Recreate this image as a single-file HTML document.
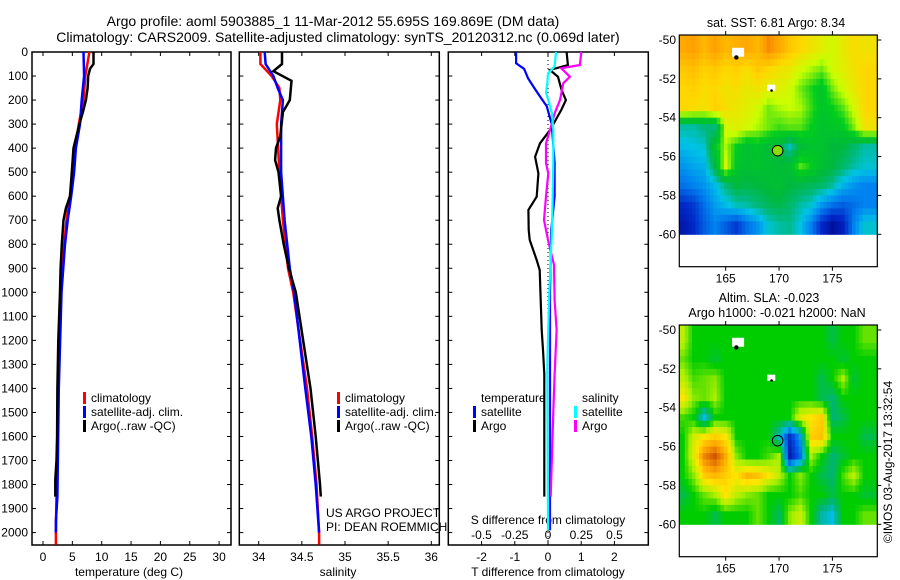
<!DOCTYPE html>
<html><head><meta charset="utf-8"><style>
html,body{margin:0;padding:0;background:#fff;}
svg{display:block;font-family:"Liberation Sans",sans-serif;}
text{font-size:12px;fill:#000;}
</style></head><body>
<svg id="fig" width="900" height="580" viewBox="0 0 900 580" xmlns="http://www.w3.org/2000/svg">
<text x="333" y="26" text-anchor="middle" style="font-size:14px">Argo profile: aoml 5903885_1 11-Mar-2012 55.695S 169.869E (DM data)</text>
<text x="338" y="42" text-anchor="middle" style="font-size:14px">Climatology: CARS2009. Satellite-adjusted climatology: synTS_20120312.nc (0.069d later)</text>
<g id="g1"></g>
<g id="g2"></g>
<g id="g3"></g>
<g id="m1"></g>
<g id="m2"></g>
<text transform="translate(892,462) rotate(-90)" text-anchor="middle">©IMOS 03-Aug-2017 13:32:54</text>
</svg>
<script>
// ---------- data ----------
const depthTicks=[0,100,200,300,400,500,600,700,800,900,1000,1100,1200,1300,1400,1500,1600,1700,1800,1900,2000];
const tTicks=[0,5,10,15,20,25,30];
const sTicks=[34,34.5,35,35.5,36];
const dTTicks=[-2,-1,0,1,2];
const dSTicks=[-0.5,-0.25,0,0.25,0.5];
const dSTickLabels=["-0.5","-0.25","0","0.25","0.5"];

const argoTDepth=[0,50,70,100,150,200,250,300,400,500,600,650,700,800,900,1000,1200,1400,1600,1700,1780,1850];
const argoT=[8.6,8.6,8.0,7.7,7.6,7.3,6.8,6.2,5.2,4.9,4.6,3.9,3.5,3.2,3.0,2.9,2.6,2.45,2.4,2.3,2.1,2.1];
const climTDepth=[0,100,200,300,400,500,600,700,800,1000,1400,2000,2050];
const climT=[7.9,7.2,6.9,6.1,5.5,5.1,4.6,4.0,3.6,3.1,2.55,2.2,2.2];
const satTDepth=[0,100,200,300,400,500,600,700,800,1000,1400,1850,1950,2000];
const satT=[6.9,7.0,6.6,6.3,5.6,5.3,4.8,4.2,3.75,3.15,2.7,2.45,2.2,2.2];

const argoSDepth=[0,50,80,120,200,250,350,400,450,500,600,650,700,800,900,1000,1400,1600,1800,1850];
const argoS=[34.27,34.27,34.17,34.38,34.36,34.28,34.25,34.20,34.19,34.23,34.26,34.22,34.24,34.29,34.35,34.43,34.60,34.66,34.71,34.72];
const climSDepth=[0,50,100,150,200,300,500,700,900,1000,1400,1600,1800,2000,2050];
const climS=[34.02,34.02,34.15,34.24,34.25,34.21,34.24,34.28,34.34,34.40,34.56,34.62,34.67,34.70,34.70];
const satSDepth=[0,50,100,150,200,300,500,700,900,1000,1400,1600,1800,2000];
const satS=[34.07,34.08,34.17,34.22,34.28,34.26,34.26,34.30,34.36,34.41,34.54,34.61,34.66,34.70];

const satDTDepth=[0,47,70,110,144,185,225,300,460,600,740,1000,1990];
const satDT=[-0.96,-0.96,-0.72,-0.6,-0.44,-0.24,-0.04,0.11,0.2,0.2,0.1,0.06,0.06];
const argoDTDepth=[0,54,75,103,158,200,241,325,380,436,505,602,657,740,782,866,907,1032,1157,1240,1340,1850];
const argoDT=[0.56,0.6,0.06,0.3,0.41,0.54,0.4,0.06,-0.24,-0.39,-0.29,-0.34,-0.59,-0.58,-0.55,-0.34,-0.25,-0.22,-0.19,-0.15,-0.11,-0.11];
const argoDSDepth=[0,54,68,103,130,200,255,325,380,462,505,602,699,782,886,1032,1157,1344,1500,1850];
const argoDS=[0.25,0.24,0.1,0.165,0.115,0.09,0.05,0.015,-0.015,-0.015,0.002,-0.015,-0.03,0.0,0.045,0.05,0.065,0.05,0.04,0.02];
const satDSDepth=[0,60,90,130,170,200,255,325,462,740,1000,1300,1990];
const satDS=[0.06,0.05,0.0,-0.005,-0.015,0.002,0.03,0.04,0.04,0.03,0.01,-0.005,0.0];

const mapLons=[161,162,163,164,165,166,167,168,169,170,171,172,173,174,175,176,177,178];
const mapLats=[-50,-51,-52,-53,-54,-55,-56,-57,-58,-59];
const sst=[
[9.2,9.3,9.0,9.3,9.0,9.1,9.2,9.0,9.5,9.2,8.8,8.6,8.4,8.2,8.0,8.3,8.5,8.4],
[8.8,8.9,8.7,8.8,8.6,8.7,8.5,8.8,8.6,8.4,8.3,8.0,7.8,7.6,8.0,8.2,8.4,8.6],
[8.6,8.7,8.5,8.6,8.4,8.5,8.3,8.4,8.2,8.2,8.0,7.6,7.3,7.0,7.6,8.0,8.3,8.6],
[8.6,8.5,8.4,8.7,8.5,8.3,8.2,8.0,7.6,7.8,7.9,7.8,7.4,7.0,7.2,7.5,8.0,8.6],
[6.0,6.0,6.2,6.2,8.0,8.2,8.0,7.8,7.6,7.4,7.5,7.5,7.2,6.9,7.0,7.1,7.6,8.4],
[5.6,5.7,5.8,7.0,7.8,7.2,6.8,7.0,6.7,6.6,5.9,6.7,6.9,6.9,6.6,6.6,6.3,6.0],
[5.2,5.4,5.5,6.6,8.0,7.0,6.8,6.9,6.8,6.7,6.8,7.5,7.2,6.8,6.6,6.3,6.0,5.8],
[4.8,5.0,5.2,5.6,6.2,6.6,6.5,6.6,6.7,6.8,6.6,6.5,6.4,6.3,6.0,5.5,5.2,5.0],
[4.0,4.2,4.8,5.3,5.6,5.9,6.0,6.2,6.4,6.5,6.3,6.0,5.8,5.2,4.8,4.6,4.8,5.0],
[3.6,4.0,4.6,5.0,4.6,4.2,4.8,5.2,5.8,6.0,6.1,5.7,5.0,4.0,3.4,3.8,5.0,5.8]];
const sla=[
[0.06,0,0,0,0,0,0,0,0,0,0,0,0,0,-0.03,0,0,0.03],
[0.03,0,0,-0.02,0,0,0,0,0,0,0,0,0,0,0,-0.02,0,0],
[0.06,0.02,0.03,0.04,0,0,0,0,0,0,0,0,0,-0.03,0,0.05,-0.02,0],
[0.1,0.04,0.03,0.05,0,0,0,0,0,0,0,0,0,-0.03,-0.05,0,0,0],
[0.02,0,-0.1,0,0,0,0,0,0,0,0,0.08,0.1,0.12,-0.05,-0.03,0,0],
[0,0.07,0.1,0.12,0.1,0,0,0,0,-0.08,-0.2,-0.12,0.12,0.13,0,0,0,-0.03],
[0,0.08,0.18,0.22,0.15,0.04,0,0,0.02,0.05,-0.22,-0.15,0.05,0,-0.05,-0.02,0,0],
[0,0.04,0.12,0.14,0.12,0.1,0.14,0.13,0.1,0.06,0,0.04,0,-0.03,-0.05,0.02,0.06,0],
[-0.03,0,0.03,0.05,0.1,0.06,0.04,0.03,0,0,0,0.02,0,0,-0.03,0,0,-0.02],
[0,0,0,-0.03,0,0,0,0.03,0,-0.04,0.04,0.07,0,-0.07,-0.1,0,0,0.03]];
const argoLon=169.869, argoLat=-55.695;
const mapLonTicks=[165,170,175];
const mapLatTicks=[-50,-52,-54,-56,-58,-60];

// ---------- helpers ----------
const NS="http://www.w3.org/2000/svg";
function mk(parent,tag,attrs,txt){const e=document.createElementNS(NS,tag);for(const k in attrs)e.setAttribute(k,attrs[k]);if(txt!==undefined)e.textContent=txt;parent.appendChild(e);return e;}
const Y0=52, PXD=0.2403, YB=545;
const yD=d=>Y0+d*PXD;
const xT=t=>43+t*5.87;
const xS=s=>258.7+(s-34)*86.3;
const xDT=v=>548+v*33.2;
const xDS=v=>548+v*133;

function frame(g,x0,x1,name){
  const r=mk(g,'rect',{x:x0,y:Y0,width:x1-x0,height:YB-Y0,fill:'none',stroke:'#000','stroke-width':1.5});
  
  depthTicks.forEach(d=>{mk(g,'line',{x1:x0,x2:x0+4,y1:yD(d),y2:yD(d),stroke:'#000'});mk(g,'line',{x1:x1-4,x2:x1,y1:yD(d),y2:yD(d),stroke:'#000'});});
}
function line(g,xs,ds,fx,color,name,w){
  const pts=xs.map((v,i)=>fx(v).toFixed(1)+','+yD(ds[i]).toFixed(1)).join(' ');
  const p=mk(g,'polyline',{points:pts,fill:'none',stroke:color,'stroke-width':w||2.5,'stroke-linejoin':'miter'});
  
  
}
function legendEntry(g,x,y,color,label,name){
  mk(g,'rect',{x:x,y:y-10,width:3,height:12,fill:color});
  const t=mk(g,'text',{x:x+8,y:y},label);
  
  
}

// ---------- panel 1 ----------
const g1=document.getElementById('g1');
frame(g1,32,231,'temperature');
depthTicks.forEach(d=>{const t=mk(g1,'text',{x:28,y:yD(d)+4,'text-anchor':'end'},String(d));
  
  });
tTicks.forEach(v=>{mk(g1,'line',{x1:xT(v),x2:xT(v),y1:Y0,y2:Y0+4,stroke:'#000'});mk(g1,'line',{x1:xT(v),x2:xT(v),y1:YB-4,y2:YB,stroke:'#000'});
  const t=mk(g1,'text',{x:xT(v),y:561,'text-anchor':'middle'},String(v));
  
  });
mk(g1,'text',{x:129,y:576,'text-anchor':'middle',},'temperature (deg C)');
line(g1,climT,climTDepth,xT,'#ff0000','climatology-temperature-line');
line(g1,satT,satTDepth,xT,'#0000ff','satellite-temperature-line');
line(g1,argoT,argoTDepth,xT,'#000000','argo-temperature-line');
legendEntry(g1,83,402,'#ff0000','climatology','legend-climatology');
legendEntry(g1,83,416,'#0000ff','satellite-adj. clim.','legend-satellite');
legendEntry(g1,83,430,'#000000','Argo(..raw -QC)','legend-argo');

// ---------- panel 2 ----------
const g2=document.getElementById('g2');
frame(g2,239.3,439.3,'salinity');
sTicks.forEach(v=>{mk(g2,'line',{x1:xS(v),x2:xS(v),y1:Y0,y2:Y0+4,stroke:'#000'});mk(g2,'line',{x1:xS(v),x2:xS(v),y1:YB-4,y2:YB,stroke:'#000'});
  const t=mk(g2,'text',{x:xS(v),y:561,'text-anchor':'middle'},String(v));
  
  });
mk(g2,'text',{x:338,y:576,'text-anchor':'middle',},'salinity');
line(g2,climS,climSDepth,xS,'#ff0000','climatology-salinity-line');
line(g2,satS,satSDepth,xS,'#0000ff','satellite-salinity-line');
line(g2,argoS,argoSDepth,xS,'#000000','argo-salinity-line');
legendEntry(g2,337,402,'#ff0000','climatology','legend-climatology-2');
legendEntry(g2,337,416,'#0000ff','satellite-adj. clim.','legend-satellite-2');
legendEntry(g2,337,430,'#000000','Argo(..raw -QC)','legend-argo-2');
mk(g2,'text',{x:326,y:517,},'US ARGO PROJECT');
mk(g2,'text',{x:326,y:531,},'PI: DEAN ROEMMICH');

// ---------- panel 3 ----------
const g3=document.getElementById('g3');
mk(g3,'line',{x1:548,x2:548,y1:Y0,y2:YB,stroke:'#000','stroke-dasharray':'1,3',});
frame(g3,448.3,648.3,'difference');
dTTicks.forEach(v=>{mk(g3,'line',{x1:xDT(v),x2:xDT(v),y1:Y0,y2:Y0+4,stroke:'#000'});mk(g3,'line',{x1:xDT(v),x2:xDT(v),y1:YB-4,y2:YB,stroke:'#000'});
  const t=mk(g3,'text',{x:xDT(v),y:561,'text-anchor':'middle'},String(v));
  
  });
dSTicks.forEach((v,i)=>{const t=mk(g3,'text',{x:xDS(v),y:539,'text-anchor':'middle'},dSTickLabels[i]);
  
  });
mk(g3,'text',{x:548,y:524,'text-anchor':'middle',},'S difference from climatology');
mk(g3,'text',{x:548,y:576,'text-anchor':'middle',},'T difference from climatology');
line(g3,satDT,satDTDepth,xDT,'#0000ff','satellite-t-diff-line',2.2);
line(g3,argoDT,argoDTDepth,xDT,'#000000','argo-t-diff-line',2.2);
line(g3,argoDS,argoDSDepth,xDS,'#ff00ff','argo-s-diff-line',2.2);
line(g3,satDS,satDSDepth,xDS,'#00ffff','satellite-s-diff-line',2.2);
mk(g3,'text',{x:481,y:402,},'temperature');
mk(g3,'text',{x:582,y:402,},'salinity');
legendEntry(g3,473,416,'#0000ff','satellite','legend-t-satellite');
legendEntry(g3,473,430,'#000000','Argo','legend-t-argo');
legendEntry(g3,574,416,'#00ffff','satellite','legend-s-satellite');
legendEntry(g3,574,430,'#ff00ff','Argo','legend-s-argo');

// ---------- maps ----------
function interp(stops,v){
  if(v<=stops[0][0])return stops[0][1];
  for(let i=1;i<stops.length;i++){if(v<=stops[i][0]){const a=stops[i-1],b=stops[i],f=(v-a[0])/(b[0]-a[0]);
    return a[1].map((c,k)=>Math.round(c+(b[1][k]-c)*f));}}
  return stops[stops.length-1][1];
}
const sstStops=[[3,[0,0,130]],[4,[0,40,200]],[5,[0,130,240]],[5.7,[0,195,230]],[6.2,[0,185,120]],[6.6,[0,185,60]],[7.2,[0,205,30]],[7.9,[200,255,0]],[8.6,[255,215,0]],[9.3,[255,160,0]],[10.5,[200,40,0]]];
const slaStops=[[-0.25,[0,0,140]],[-0.17,[0,80,230]],[-0.1,[0,190,230]],[-0.05,[0,180,120]],[0,[0,205,0]],[0.05,[170,240,0]],[0.1,[255,230,0]],[0.15,[255,170,0]],[0.25,[190,50,0]]];
function sample(grid,fr,fc){
  const R=grid.length-1,C=grid[0].length-1;
  fr=Math.max(0,Math.min(R,fr));fc=Math.max(0,Math.min(C,fc));
  const r0=Math.floor(fr),c0=Math.floor(fc),r1=Math.min(R,r0+1),c1=Math.min(C,c0+1),a=fr-r0,b=fc-c0;
  return grid[r0][c0]*(1-a)*(1-b)+grid[r0][c1]*(1-a)*b+grid[r1][c0]*a*(1-b)+grid[r1][c1]*a*b;
}
function drawMap(id,top,grid,stops,name,circleFill,sub){
  const g=document.getElementById(id);
  const L=679.3,R=877.3,B=top+231.7;
  const xL=lon=>725.7+(lon-165)*10.67;
  const yL=lat=>top+5+(-50-lat)*19.43;
  const lon0=mapLons[0]-0.5, lat0=mapLats[0];
  const nC=mapLons.length*sub, nR=mapLats.length*sub;
  for(let r=0;r<nR;r++)for(let c=0;c<nC;c++){
    const lonA=lon0+c/sub, lonB=lon0+(c+1)/sub, latA=lat0-r/sub, latB=lat0-(r+1)/sub;
    const v=sample(grid,(r+0.5)/sub-0.5,(c+0.5)/sub-0.5);
    const x0=Math.max(L,xL(lonA)), x1=c===nC-1?R:Math.min(R,xL(lonB));
    const y0=r===0?top:yL(latA), y1=yL(latB);
    if(x1<=x0)continue;
    const col=interp(stops,v);
    const cell=mk(g,'rect',{x:x0.toFixed(1),y:y0.toFixed(1),width:(x1-x0+0.5).toFixed(1),height:(y1-y0+0.5).toFixed(1),fill:`rgb(${col})`});
    
    
  }
  mk(g,'rect',{x:xL(165.6),y:yL(-50.4),width:12,height:9,fill:'#fff'});
  mk(g,'circle',{cx:xL(166.0),cy:yL(-50.9),r:2.2,fill:'#000'});
  mk(g,'rect',{x:xL(168.9),y:yL(-52.3),width:8,height:6,fill:'#fff'});
  mk(g,'circle',{cx:xL(169.3),cy:yL(-52.6),r:1.3,fill:'#000'});
  const c=mk(g,'circle',{cx:xL(argoLon),cy:yL(argoLat),r:5.3,fill:circleFill,stroke:'#000','stroke-width':1});
  
  
  mk(g,'rect',{x:L,y:top,width:R-L,height:B-top,fill:'none',stroke:'#000','stroke-width':1.2});
  mapLonTicks.forEach(v=>{mk(g,'line',{x1:xL(v),x2:xL(v),y1:top-4,y2:top,stroke:'#000'});mk(g,'line',{x1:xL(v),x2:xL(v),y1:B,y2:B+4,stroke:'#000'});
    const t=mk(g,'text',{x:xL(v),y:B+16,'text-anchor':'middle'},String(v));
    
    });
  mapLatTicks.forEach(v=>{mk(g,'line',{x1:R,x2:R+4,y1:yL(v),y2:yL(v),stroke:'#000'});
    const t=mk(g,'text',{x:676,y:yL(v)+4,'text-anchor':'end'},String(v));
    
    });
}
drawMap('m1',35,sst,sstStops,'sst-map','#88e000',3);
drawMap('m2',325,sla,slaStops,'sla-map','none',3);
const m1=document.getElementById('m1'), m2=document.getElementById('m2');
mk(m1,'text',{x:776,y:27,'text-anchor':'middle',style:'font-size:12.5px',},'sat. SST: 6.81  Argo: 8.34');
mk(m2,'text',{x:769,y:302,'text-anchor':'middle',style:'font-size:12.5px',},'Altim. SLA: -0.023');
mk(m2,'text',{x:777,y:317,'text-anchor':'middle',style:'font-size:12.5px',},'Argo h1000: -0.021 h2000: NaN');
</script>
</body></html>
